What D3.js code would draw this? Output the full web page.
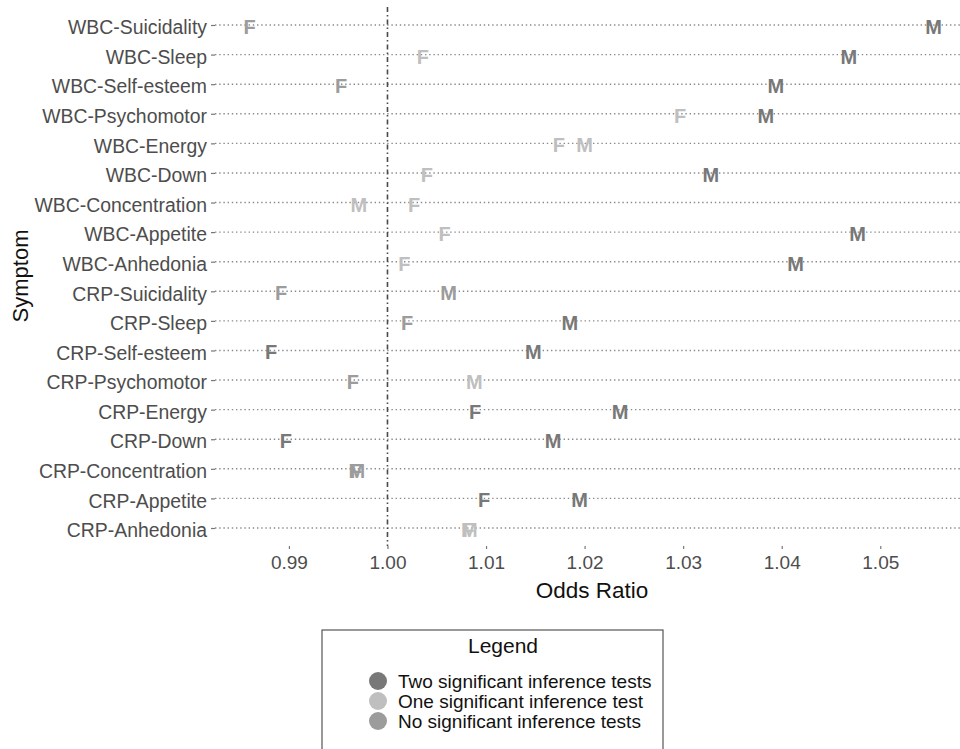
<!DOCTYPE html>
<html>
<head>
<meta charset="utf-8">
<script src="https://cdn.jsdelivr.net/npm/d3@7"></script>
<style>
  body { margin: 0; background: #fff; }
  svg { display: block; font-family: "Liberation Sans", Arial, sans-serif; }
</style>
</head>
<body>
<div class="graph"></div>
<script>
var width = 960,
    height = 749;

// symptoms, top row first
var symptoms = ["WBC-Suicidality", "WBC-Sleep", "WBC-Self-esteem", "WBC-Psychomotor",
    "WBC-Energy", "WBC-Down", "WBC-Concentration", "WBC-Appetite", "WBC-Anhedonia",
    "CRP-Suicidality", "CRP-Sleep", "CRP-Self-esteem", "CRP-Psychomotor",
    "CRP-Energy", "CRP-Down", "CRP-Concentration", "CRP-Appetite", "CRP-Anhedonia"];

var femaleOR = [0.9860, 1.0036, 0.9953, 1.0297, 1.0174, 1.0040, 1.0027, 1.0058, 1.0017,
    0.9892, 1.0020, 0.9882, 0.9965, 1.0089, 0.9897, 0.9968, 1.0098, 1.0082];
var maleOR = [1.0554, 1.0468, 1.0394, 1.0384, 1.0200, 1.0328, 0.9971, 1.0477, 1.0414,
    1.0062, 1.0185, 1.0148, 1.0088, 1.0236, 1.0168, 0.9969, 1.0195, 1.0083];

// number of significant inference tests (0, 1, 2)
var femaleSig = [0, 1, 0, 1, 1, 1, 1, 1, 1, 0, 0, 2, 0, 2, 2, 0, 2, 1];
var maleSig = [2, 2, 2, 2, 1, 2, 1, 2, 2, 0, 2, 2, 1, 2, 2, 0, 2, 1];

var xTicks = [0.99, 1.00, 1.01, 1.02, 1.03, 1.04, 1.05];

var sigLabels = ["Two significant inference tests", "One significant inference test",
    "No significant inference tests"];
var sigLevels = [2, 1, 0];

var sigColor = d3.scaleOrdinal()
    .domain([2, 1, 0])
    .range(["#787878", "#bfbfbf", "#9c9c9c"]);

var x = d3.scaleLinear()
    .domain([0.9825, 1.0589])
    .range([215, 968]);

var y = d3.scalePoint()
    .domain(symptoms)
    .range([25, 528]);

var svg = d3.select('.graph').append("svg")
    .attr("width", width)
    .attr("height", height);

var points = [];
symptoms.forEach(function(s, i) {
    points.push({symptom: s, sex: "F", or: femaleOR[i], sig: femaleSig[i]});
    points.push({symptom: s, sex: "M", or: maleOR[i], sig: maleSig[i]});
});

// dotted row lines
svg.append("g")
    .selectAll("line")
    .data(symptoms)
    .enter().append("line")
    .attr("x1", x.range()[0])
    .attr("x2", width)
    .attr("y1", function(d) { return y(d); })
    .attr("y2", function(d) { return y(d); })
    .attr("stroke", "#8a8a8a")
    .attr("stroke-width", 1.4)
    .attr("stroke-dasharray", "1.4,2.8");

// reference line at OR = 1
svg.append("line")
    .attr("x1", x(1))
    .attr("x2", x(1))
    .attr("y1", 7)
    .attr("y2", 546)
    .attr("stroke", "#4a4a4a")
    .attr("stroke-width", 1.6)
    .attr("stroke-dasharray", "5,3,1.5,3");

// y axis
var yAxis = svg.append("g")
    .attr("transform", "translate(" + x.range()[0] + ",0)")
    .call(d3.axisLeft(y).tickSize(4).tickPadding(4));
yAxis.select(".domain").remove();
yAxis.selectAll(".tick line").attr("stroke", "#777").attr("stroke-width", 1.2);
yAxis.selectAll(".tick text")
    .attr("dy", "0.45em")
    .attr("fill", "#4d4d4d")
    .style("font-size", "19.4px");

// x axis
var xAxis = svg.append("g")
    .attr("transform", "translate(0,546)")
    .call(d3.axisBottom(x).tickValues(xTicks).tickFormat(d3.format(".2f")).tickSize(3).tickPadding(7));
xAxis.select(".domain").remove();
xAxis.selectAll(".tick line").attr("stroke", "#777").attr("stroke-width", 1.2);
xAxis.selectAll(".tick text")
    .attr("fill", "#4d4d4d")
    .style("font-size", "19px");

// axis titles
svg.append("text")
    .attr("x", 592)
    .attr("y", 598)
    .attr("text-anchor", "middle")
    .style("font-size", "22.5px")
    .attr("fill", "#111")
    .text("Odds Ratio");

svg.append("text")
    .attr("transform", "translate(28,276) rotate(-90)")
    .attr("text-anchor", "middle")
    .style("font-size", "22px")
    .attr("fill", "#111")
    .text("Symptom");

// F / M letters
svg.append("g")
    .selectAll("text")
    .data(points)
    .enter().append("text")
    .attr("x", function(d) { return x(d.or); })
    .attr("y", function(d) { return y(d.symptom); })
    .attr("dy", 9)
    .attr("text-anchor", "middle")
    .style("font-size", "20px")
    .style("font-weight", "bold")
    .attr("fill", function(d) { return sigColor(d.sig); })
    .text(function(d) { return d.sex; });

// legend
var legend = svg.append("g");

legend.append("rect")
    .attr("x", 322)
    .attr("y", 630)
    .attr("width", 341)
    .attr("height", 140)
    .attr("fill", "#fff")
    .attr("stroke", "#555")
    .attr("stroke-width", 1.2);

legend.append("text")
    .attr("x", 503)
    .attr("y", 653)
    .attr("text-anchor", "middle")
    .style("font-size", "21px")
    .attr("fill", "#111")
    .text("Legend");

var item = legend.selectAll(".item")
    .data(sigLevels)
    .enter().append("g")
    .attr("class", "item")
    .attr("transform", function(d, i) { return "translate(378," + (681 + i * 20) + ")"; });

item.append("circle")
    .attr("r", 9)
    .attr("fill", function(d) { return sigColor(d); });

item.append("text")
    .attr("x", 20)
    .attr("y", 7)
    .style("font-size", "19px")
    .attr("fill", "#111")
    .text(function(d, i) { return sigLabels[i]; });
</script>
</body>
</html>
